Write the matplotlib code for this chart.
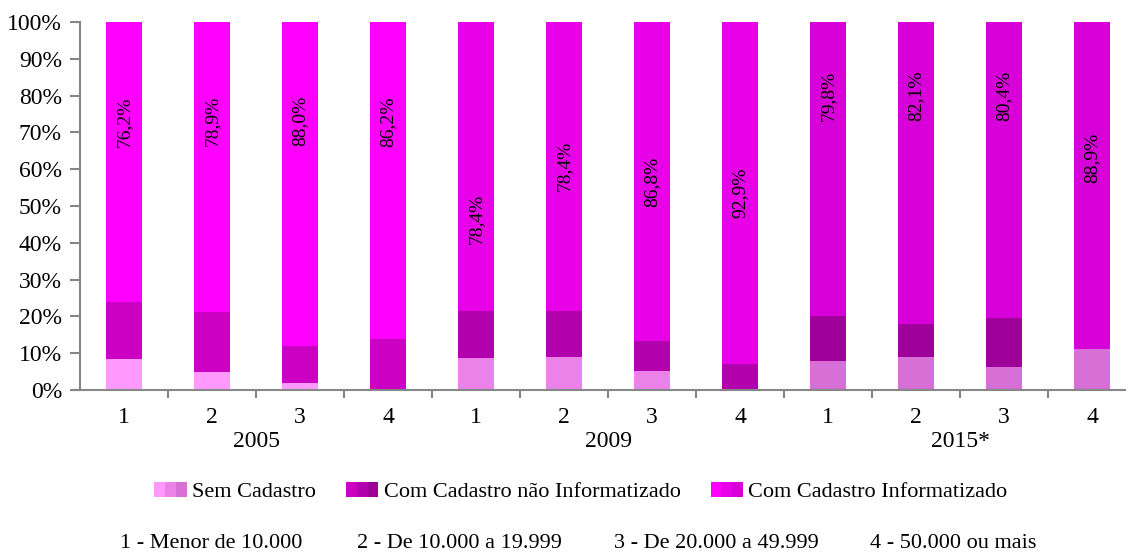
import matplotlib
matplotlib.use("Agg")
import matplotlib.pyplot as plt
from matplotlib.patches import Rectangle
from matplotlib.legend_handler import HandlerBase
import numpy as np

plt.rcParams['font.family'] = ['Liberation Serif', 'DejaVu Serif']

# Data: share of municipalities by cadastre status, per population class and year
groups = ['2005', '2009', '2015*']
categories = ['1', '2', '3', '4']
sem_cadastro = [[8.3, 4.8, 2.0, 0.0],
                [8.6, 9.1, 5.1, 0.0],
                [8.0, 9.1, 6.2, 11.1]]
com_nao_informatizado = [[15.5, 16.3, 10.0, 13.8],
                         [13.0, 12.5, 8.1, 7.1],
                         [12.2, 8.8, 13.4, 0.0]]
com_informatizado = [[76.2, 78.9, 88.0, 86.2],
                     [78.4, 78.4, 86.8, 92.9],
                     [79.8, 82.1, 80.4, 88.9]]
series_names = ['Sem Cadastro', 'Com Cadastro não Informatizado',
                'Com Cadastro Informatizado']
population_classes = ['1 - Menor de 10.000', '2 - De 10.000 a 19.999',
                      '3 - De 20.000 a 49.999', '4 - 50.000 ou mais']

# Layout / style
label_y = [[73, 73, 73, 73],
           [46.6, 61, 56.6, 53.5],
           [80, 80, 80, 63]]
colors = {  # one shade per year group
    'sem': ['#FF99FF', '#EA82EA', '#D670D6'],
    'nao': ['#CC00C2', '#B300AD', '#A0009A'],
    'inf': ['#FF00FF', '#E800E8', '#D800D8'],
}

W, H = 1126, 553
fig = plt.figure(figsize=(W / 100, H / 100), dpi=100)
x0, x1 = 80, 1136
y0, y1 = 390, 22
ax = fig.add_axes([x0 / W, 1 - y0 / H, (x1 - x0) / W, (y0 - y1) / H])

axis_color = '#868686'
fs_axis = 17
fs_lab = 14
fs_leg = 16
bar_w = 0.4
n_cat = len(categories)

for g in range(len(groups)):
    xs = np.arange(n_cat) + g * n_cat + 0.5
    s = np.array(sem_cadastro[g])
    n = np.array(com_nao_informatizado[g])
    i = np.array(com_informatizado[g])
    ax.bar(xs, s, bar_w, color=colors['sem'][g], linewidth=0)
    ax.bar(xs, n, bar_w, bottom=s, color=colors['nao'][g], linewidth=0)
    ax.bar(xs, i, bar_w, bottom=s + n, color=colors['inf'][g], linewidth=0)
    for k in range(n_cat):
        ax.text(xs[k], label_y[g][k], f"{i[k]:.1f}%".replace('.', ','),
                rotation=90, ha='center', va='center', fontsize=fs_lab,
                color='black')
        ax.text(xs[k], -7.6, categories[k], ha='center', va='center',
                fontsize=fs_axis, color='black')
    ax.text(g * n_cat + n_cat / 2, -13.9, groups[g], ha='center', va='center',
            fontsize=fs_axis, color='black')

total = len(groups) * n_cat
ax.set_xlim(0, total)
ax.set_ylim(0, 100)
ax.set_xticks(np.arange(1, total + 1))
ax.set_xticklabels([])
ax.set_yticks(np.arange(0, 101, 10))
ax.set_yticklabels([f"{v}%" for v in range(0, 101, 10)], fontsize=fs_axis)
ax.tick_params(axis='x', direction='out', length=6, color=axis_color, width=1.5)
ax.tick_params(axis='y', direction='out', length=7, color=axis_color, width=1.5,
               pad=6)
for side in ['top', 'right']:
    ax.spines[side].set_visible(False)
for side in ['left', 'bottom']:
    ax.spines[side].set_color(axis_color)
    ax.spines[side].set_linewidth(1.5)
ax.spines['bottom'].set_bounds(-0.08, total)


class TriSwatch(HandlerBase):
    def __init__(self, shades):
        super().__init__()
        self.shades = shades

    def create_artists(self, legend, orig_handle, xdescent, ydescent,
                       width, height, fontsize, trans):
        arts = []
        w = width / 3
        for j, c in enumerate(self.shades):
            r = Rectangle((-xdescent + j * w, -ydescent), w, height,
                          facecolor=c, edgecolor='none', transform=trans)
            arts.append(r)
        return arts


handles = [Rectangle((0, 0), 1, 1) for _ in series_names]
handler_map = {handles[0]: TriSwatch(colors['sem']),
               handles[1]: TriSwatch(colors['nao']),
               handles[2]: TriSwatch(colors['inf'])}
fig.legend(handles, series_names, handler_map=handler_map, loc='center',
           bbox_to_anchor=(581 / W, 1 - 492 / H), ncol=3, frameon=False,
           fontsize=fs_leg, handlelength=1.45, handleheight=0.65,
           handletextpad=0.25, columnspacing=1.35)

for txt, xp in zip(population_classes, [120, 357, 614, 870]):
    fig.text(xp / W, 1 - 543 / H, txt, ha='left', va='center', fontsize=fs_leg,
             color='black')

fig.savefig('out.png', dpi=100, facecolor='white')
